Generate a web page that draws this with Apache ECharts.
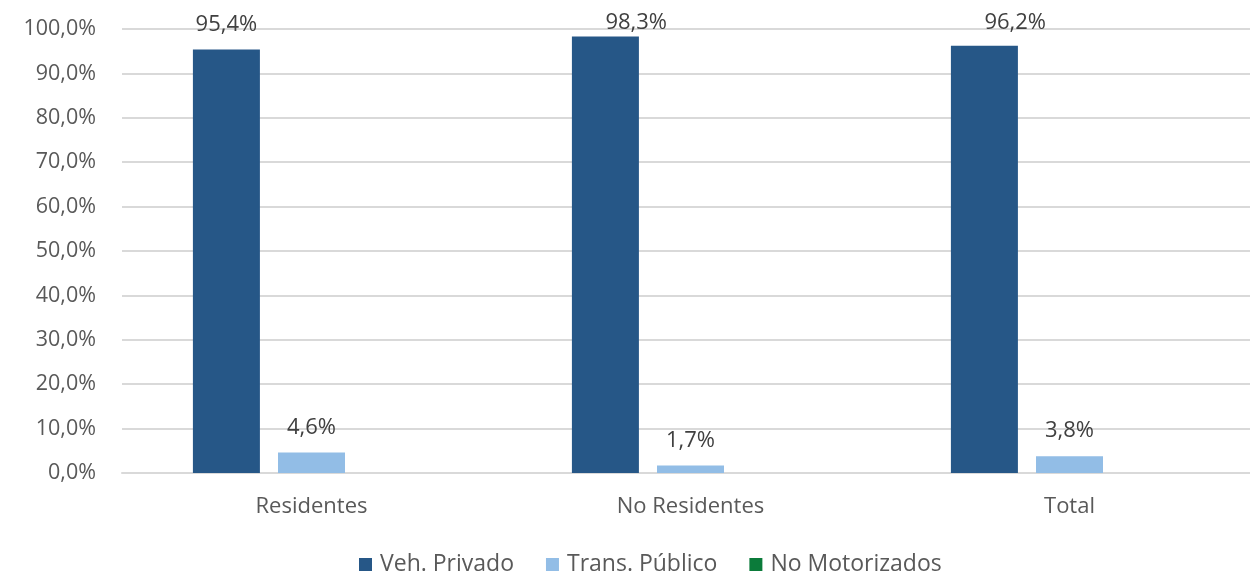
<!DOCTYPE html>
<html>
<head>
<meta charset="utf-8">
<script src="https://cdn.jsdelivr.net/npm/echarts@6/dist/echarts.min.js"></script>
<style>
  html, body { margin: 0; padding: 0; background: #ffffff; overflow: hidden; width: 1250px; height: 579px; }
  #chart { width: 1259px; height: 579px; }
</style>
</head>
<body>
<div id="chart"></div>
<script>
// Modal split by traveller type (percent of trips)
const categories = ['Residentes', 'No Residentes', 'Total'];
const seriesNames = ['Veh. Privado', 'Trans. Público', 'No Motorizados'];
const vehPrivado = [95.4, 98.3, 96.2];
const transPublico = [4.6, 1.7, 3.8];
const noMotorizados = [0, 0, 0];
const colors = ['#265787', '#92BDE6', '#0B7B3A'];

const fontFamily = '"Open Sans", "Noto Sans", sans-serif';
const fmt = v => v.toFixed(1).replace('.', ',') + '%';

const chart = echarts.init(document.getElementById('chart'), null, { renderer: 'canvas' });

const labelCfg = {
  show: true,
  position: 'top',
  distance: 14,
  color: '#404040',
  fontSize: 22,
  fontFamily: fontFamily,
  formatter: p => fmt(p.value)
};

// Keep value labels from rising above the top of the plot area
const LABEL_MIN_BOTTOM = 34;
const clampLabel = p => {
  const bottom = p.labelRect.y + p.labelRect.height;
  return bottom < LABEL_MIN_BOTTOM ? { y: LABEL_MIN_BOTTOM, verticalAlign: 'bottom' } : {};
};

chart.setOption({
  animation: false,
  textStyle: { fontFamily: fontFamily },
  grid: { left: 122, top: 29, right: 0, height: 444, containLabel: false },
  legend: {
    left: 359,
    top: 553,
    padding: 0,
    itemWidth: 13,
    itemHeight: 13,
    itemGap: 32,
    icon: 'rect',
    textStyle: { color: '#595959', fontSize: 23, fontFamily: fontFamily, padding: [0, 0, 0, 3] },
    data: seriesNames
  },
  xAxis: {
    type: 'category',
    data: categories,
    axisLine: { show: true, lineStyle: { color: '#d9d9d9', width: 2 } },
    axisTick: { show: false },
    axisLabel: { color: '#595959', fontSize: 22, margin: 23, fontFamily: fontFamily }
  },
  yAxis: {
    type: 'value',
    min: 0,
    max: 100,
    interval: 10,
    axisLine: { show: false },
    axisTick: { show: false },
    splitLine: { lineStyle: { color: '#d9d9d9', width: 2 } },
    axisLabel: { color: '#595959', fontSize: 21.5, margin: 26, fontFamily: fontFamily, formatter: v => fmt(v) }
  },
  series: [
    { name: seriesNames[0], type: 'bar', data: vehPrivado, barWidth: 67, barGap: '27%', itemStyle: { color: colors[0] }, label: labelCfg, labelLayout: clampLabel },
    { name: seriesNames[1], type: 'bar', data: transPublico, barWidth: 67, barGap: '27%', itemStyle: { color: colors[1] }, label: labelCfg },
    { name: seriesNames[2], type: 'bar', data: noMotorizados, barWidth: 67, barGap: '27%', itemStyle: { color: colors[2] }, label: { show: false } }
  ]
});
</script>
</body>
</html>
